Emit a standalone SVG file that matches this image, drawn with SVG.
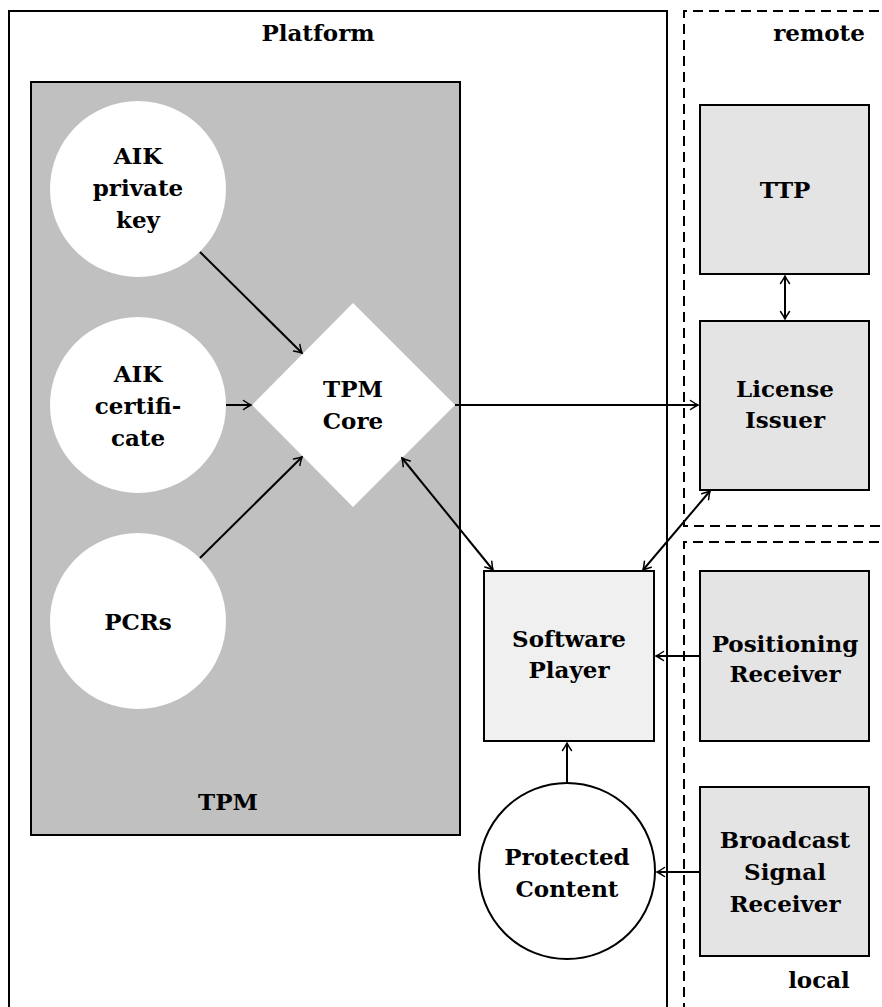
<svg xmlns="http://www.w3.org/2000/svg" width="882" height="1007" viewBox="0 0 882 1007">
  <style>
    text { font-family: "DejaVu Serif", "Liberation Serif", serif; font-weight: bold; font-size: 23px; fill: #000; text-anchor: middle; }
    .frame { fill: none; stroke: #000; stroke-width: 2; }
    .zone { fill: none; stroke: #000; stroke-width: 2; stroke-dasharray: 10 6; }
    .ext { fill: #e4e4e4; stroke: #000; stroke-width: 2; }
    .player { fill: #f0f0f0; stroke: #000; stroke-width: 2; }
    .store { fill: #fff; stroke: none; }
    .edge { fill: none; stroke: #000; stroke-width: 2; marker-end: url(#tip); }
    .both { marker-start: url(#tip); }
  </style>
  <defs>
    <marker id="tip" viewBox="-9 -6 11 12" markerWidth="11" markerHeight="12" refX="0" refY="0" markerUnits="userSpaceOnUse" orient="auto-start-reverse">
      <path d="M-7.5,-4.5 Q-2.8,-1.3 0,0 Q-2.8,1.3 -7.5,4.5" fill="none" stroke="#000" stroke-width="1.5" stroke-linecap="round"/>
    </marker>
  </defs>

  <rect width="882" height="1007" fill="#fff"/>

  <!-- containers -->
  <g id="platform">
    <rect class="frame" x="9" y="11" width="658" height="1010"/>
    <text x="318" y="41">Platform</text>
  </g>
  <g id="remote">
    <path class="zone" d="M895,11 H684 V526 H895"/>
    <text x="819" y="41">remote</text>
  </g>
  <g id="local">
    <path class="zone" d="M895,542 H684 V1020"/>
    <text x="819" y="988">local</text>
  </g>

  <g id="tpm">
    <rect x="31" y="82" width="429" height="753" fill="#c0c0c0" stroke="#000" stroke-width="2"/>
    <text x="228" y="810">TPM</text>
  </g>

  <g id="aik-private-key">
    <circle class="store" cx="138" cy="189" r="88"/>
    <text x="138" y="164">AIK</text>
    <text x="138" y="196">private</text>
    <text x="138" y="228">key</text>
  </g>
  <g id="aik-certificate">
    <circle class="store" cx="138" cy="405" r="88"/>
    <text x="138" y="382">AIK</text>
    <text x="138" y="414">certifi-</text>
    <text x="138" y="446">cate</text>
  </g>
  <g id="pcrs">
    <circle class="store" cx="138" cy="621" r="88"/>
    <text x="138" y="630">PCRs</text>
  </g>
  <g id="tpm-core">
    <polygon points="353,303 455,405 353,507 252,405" fill="#fff"/>
    <text x="353" y="397">TPM</text>
    <text x="353" y="429">Core</text>
  </g>

  <g id="ttp">
    <rect class="ext" x="700" y="105" width="169" height="169"/>
    <text x="785" y="198">TTP</text>
  </g>
  <g id="license-issuer">
    <rect class="ext" x="700" y="321" width="169" height="169"/>
    <text x="785" y="397">License</text>
    <text x="785" y="428">Issuer</text>
  </g>
  <g id="software-player">
    <rect class="player" x="484" y="571" width="170" height="170"/>
    <text x="569" y="647">Software</text>
    <text x="569" y="678">Player</text>
  </g>
  <g id="positioning-receiver">
    <rect class="ext" x="700" y="571" width="169" height="170"/>
    <text x="785" y="652">Positioning</text>
    <text x="785" y="682">Receiver</text>
  </g>
  <g id="broadcast-signal-receiver">
    <rect class="ext" x="700" y="787" width="169" height="169"/>
    <text x="785" y="848">Broadcast</text>
    <text x="785" y="880">Signal</text>
    <text x="785" y="912">Receiver</text>
  </g>
  <g id="protected-content">
    <circle cx="567" cy="871" r="88" fill="#fff" stroke="#000" stroke-width="2"/>
    <text x="567" y="865">Protected</text>
    <text x="567" y="897">Content</text>
  </g>

  <!-- connectors -->
  <g id="connectors">
    <line class="edge" x1="200" y1="252" x2="302" y2="353"/>
    <line class="edge" x1="226" y1="405" x2="251" y2="405"/>
    <line class="edge" x1="200" y1="558" x2="302" y2="457"/>
    <line class="edge" x1="455" y1="405" x2="698" y2="405"/>
    <line class="edge both" x1="402" y1="458" x2="493" y2="570"/>
    <line class="edge both" x1="710" y1="491" x2="643" y2="570"/>
    <line class="edge both" x1="785" y1="276" x2="785" y2="319"/>
    <line class="edge" x1="700" y1="656" x2="656" y2="656"/>
    <line class="edge" x1="700" y1="872" x2="657" y2="872"/>
    <line class="edge" x1="567" y1="783" x2="567" y2="743"/>
  </g>
</svg>
